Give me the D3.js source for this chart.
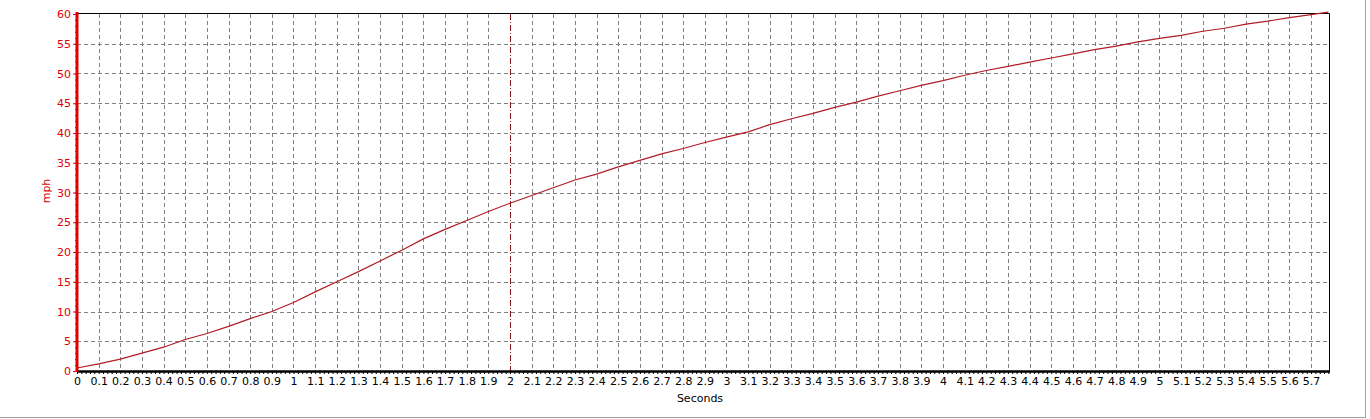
<!DOCTYPE html>
<html><head><meta charset="utf-8">
<script src="https://cdn.jsdelivr.net/npm/d3@7"></script>
<style>body{margin:0;background:#fff;}svg{display:block;}</style>
</head><body><svg id="c" width="1370" height="419"></svg>
<script>
const times = [0,0.1,0.2,0.3,0.4,0.5,0.6,0.7,0.8,0.9,1.0,1.1,1.2,1.3,1.4,1.5,1.6,1.7,1.8,1.9,2.0,2.1,2.2,2.3,2.4,2.5,2.6,2.7,2.8,2.9,3.0,3.1,3.2,3.3,3.4,3.5,3.6,3.7,3.8,3.9,4.0,4.1,4.2,4.3,4.4,4.5,4.6,4.7,4.8,4.9,5.0,5.1,5.2,5.3,5.4,5.5,5.6,5.7,5.78];
const mph = [0.5,1.2,2.0,3.0,4.0,5.3,6.3,7.5,8.8,10.0,11.5,13.3,15.0,16.7,18.5,20.3,22.2,23.8,25.3,26.8,28.2,29.5,30.8,32.1,33.1,34.3,35.4,36.5,37.4,38.4,39.3,40.2,41.4,42.4,43.3,44.3,45.2,46.2,47.1,48.0,48.8,49.7,50.5,51.2,51.9,52.6,53.3,54.0,54.6,55.3,55.9,56.4,57.1,57.6,58.3,58.8,59.4,59.9,60.3];
const xTicks = d3.range(0,58).map(i=>+(i/10).toFixed(1));
const yTicks = [0,5,10,15,20,25,30,35,40,45,50,55,60];
const markerX = 2;

const svg = d3.select('#c');
const L=77,R=1329,T=14,B=371;
const x = d3.scaleLinear().domain([0,5.783]).range([L,R]);
const y = d3.scaleLinear().domain([0,60]).range([B,T]);
const font = 'Tahoma, "DejaVu Sans", sans-serif';

// outer gray frame
svg.append('line').attr('x1',0).attr('x2',1366).attr('y1',417.5).attr('y2',417.5).attr('stroke','#a0a0a0');
svg.append('line').attr('x1',1365.5).attr('x2',1365.5).attr('y1',0).attr('y2',418).attr('stroke','#a0a0a0');

// grid
const g = svg.append('g');
xTicks.filter(t=>t>0 && t!==markerX).forEach(t=>{
  g.append('line').attr('x1',Math.round(x(t))+0.5).attr('x2',Math.round(x(t))+0.5).attr('y1',T).attr('y2',B)
   .attr('stroke','#808080').attr('stroke-dasharray','4,3');
});
yTicks.filter(t=>t>0 && t<60).forEach(t=>{
  g.append('line').attr('x1',L).attr('x2',R).attr('y1',Math.round(y(t))+0.5).attr('y2',Math.round(y(t))+0.5)
   .attr('stroke','#808080').attr('stroke-dasharray','4,3');
});
// marker line
g.append('line').attr('x1',Math.round(x(markerX))+0.5).attr('x2',Math.round(x(markerX))+0.5).attr('y1',T).attr('y2',B)
 .attr('stroke','#8b1a1a').attr('stroke-dasharray','6,2,1,2');

// top/right border
svg.append('line').attr('x1',L).attr('x2',R+0.5).attr('y1',T-0.5).attr('y2',T-0.5).attr('stroke','#000');
svg.append('line').attr('x1',R+0.5).attr('x2',R+0.5).attr('y1',T-0.5).attr('y2',B).attr('stroke','#000');

// curve
const line = d3.line().x((d,i)=>x(times[i])).y(d=>y(d));
svg.append('path').datum(mph).attr('d',line).attr('fill','none').attr('stroke','#b01c26').attr('stroke-width',1.2);

// x axis
const xa = svg.append('g').attr('transform',`translate(0,${B})`)
  .call(d3.axisBottom(x).tickValues(xTicks).tickSize(0).tickPadding(6).tickFormat(d=>String(d)));
xa.select('.domain').remove();
xa.selectAll('text').attr('font-family',font).attr('font-size',11).attr('fill','#000');
const xm = svg.append('g').attr('transform',`translate(0,${B})`)
  .call(d3.axisBottom(x).tickValues(d3.range(0,290).map(i=>i*0.02)).tickSize(3).tickFormat(''));
xm.select('.domain').remove();
xm.selectAll('line').attr('stroke','#000');
svg.append('line').attr('x1',L).attr('x2',R+1).attr('y1',B+0.5).attr('y2',B+0.5).attr('stroke','#000').attr('stroke-width',2.5);

// y axis
const ya = svg.append('g').attr('transform',`translate(${L},0)`)
  .call(d3.axisLeft(y).tickValues(yTicks).tickSize(4).tickPadding(2));
ya.select('.domain').remove();
ya.selectAll('line').attr('stroke','#e00000');
ya.selectAll('text').attr('font-family',font).attr('font-size',11).attr('fill','#e00000');
const ym = svg.append('g').attr('transform',`translate(${L},0)`)
  .call(d3.axisLeft(y).tickValues(d3.range(0,61)).tickSize(2).tickFormat(''));
ym.select('.domain').remove();
ym.selectAll('line').attr('stroke','#e00000');
svg.append('line').attr('x1',L).attr('x2',L).attr('y1',T-2).attr('y2',B+1).attr('stroke','#e00000').attr('stroke-width',3);

// titles
svg.append('text').attr('x',700).attr('y',402).attr('text-anchor','middle').attr('font-family',font).attr('font-size',11).text('Seconds');
svg.append('text').attr('transform','translate(50,191) rotate(-90)').attr('text-anchor','middle').attr('font-family',font).attr('font-size',11).attr('fill','#e00000').text('mph');
</script></body></html>
